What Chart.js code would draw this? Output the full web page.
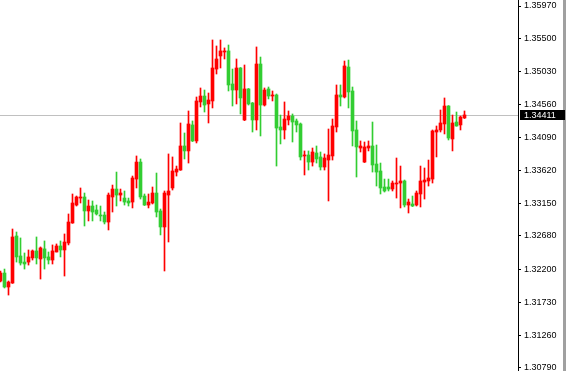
<!DOCTYPE html>
<html>
<head>
<meta charset="utf-8">
<script src="https://cdn.jsdelivr.net/npm/chart.js@4.4.1/dist/chart.umd.min.js"></script>
<style>
  html, body { margin: 0; padding: 0; background: #fff; }
  #wrap { width: 566px; height: 371px; }
</style>
</head>
<body>
<div id="wrap"><canvas id="priceChart" width="566" height="371"></canvas></div>
<script>
// OHLC candles, oldest first
const opens = [
  1.32035, 1.32149, 1.31949, 1.32006, 1.32679, 1.32393, 1.32306, 1.32306, 1.32365, 1.32465,
  1.32350, 1.32494, 1.32379, 1.32335, 1.32450, 1.32536, 1.32479, 1.32579, 1.32865, 1.33122,
  1.33222, 1.33237, 1.33037, 1.33108, 1.33051, 1.32979, 1.32979, 1.32879, 1.33237, 1.33351,
  1.33265, 1.33222, 1.33180, 1.33165, 1.33494, 1.33737, 1.33251, 1.33122, 1.33151, 1.33294,
  1.33037, 1.32808, 1.33265, 1.33366, 1.33594, 1.33623, 1.33967, 1.33896, 1.34268, 1.34039,
  1.34597, 1.34682, 1.34568, 1.34611, 1.35068, 1.35255, 1.35312, 1.35327, 1.34854, 1.34768,
  1.35083, 1.34339, 1.34783, 1.34582, 1.34339, 1.35140, 1.34553, 1.34783, 1.34682, 1.34697,
  1.34239, 1.34196, 1.34339, 1.34396, 1.34325, 1.34282, 1.33824, 1.33838, 1.33737, 1.33867,
  1.33810, 1.33666, 1.33766, 1.33824, 1.34239, 1.34697, 1.34668, 1.35097, 1.34754, 1.34196,
  1.33938, 1.33737, 1.33938, 1.33967, 1.33709, 1.33609, 1.33380, 1.33380, 1.33351, 1.33423,
  1.33437, 1.33466, 1.33122, 1.33137, 1.33122, 1.33280, 1.33451, 1.33466, 1.33494, 1.34167,
  1.34196, 1.34282, 1.34539, 1.34067, 1.34310, 1.34268, 1.34368
];
const highs = [
  1.32178, 1.32206, 1.32035, 1.32779, 1.32736, 1.32651, 1.32436, 1.32479, 1.32479, 1.32665,
  1.32522, 1.32608, 1.32450, 1.32551, 1.32565, 1.32608, 1.32708, 1.32994, 1.33280, 1.33251,
  1.33366, 1.33294, 1.33194, 1.33180, 1.33122, 1.33108, 1.33022, 1.33294, 1.33408, 1.33594,
  1.33351, 1.33323, 1.33222, 1.33537, 1.33824, 1.33781, 1.33280, 1.33280, 1.33380, 1.33580,
  1.33065, 1.33323, 1.33853, 1.33810, 1.33680, 1.34296, 1.34153, 1.34468, 1.34325, 1.34668,
  1.34797, 1.34768, 1.34725, 1.35484, 1.35398, 1.35484, 1.35370, 1.35412, 1.35068, 1.35212,
  1.35090, 1.35126, 1.34790, 1.34590, 1.35384, 1.35240, 1.34797, 1.34811, 1.34754, 1.34711,
  1.34410, 1.34597, 1.34468, 1.34425, 1.34353, 1.34296, 1.33896, 1.33896, 1.33938, 1.33967,
  1.33881, 1.33853, 1.34210, 1.34353, 1.34840, 1.34840, 1.35183, 1.35197, 1.34811, 1.34325,
  1.34039, 1.34024, 1.34039, 1.34310, 1.33981, 1.33723, 1.33494, 1.33494, 1.33466, 1.33795,
  1.33680, 1.33480, 1.33208, 1.33251, 1.33323, 1.33680, 1.33652, 1.33766, 1.34196, 1.34253,
  1.34482, 1.34654, 1.34545, 1.34410, 1.34453, 1.34396, 1.34468
];
const lows = [
  1.32020, 1.31935, 1.31834, 1.32000, 1.32306, 1.32263, 1.32206, 1.32263, 1.32335, 1.32278,
  1.32063, 1.32206, 1.32278, 1.32278, 1.32450, 1.32379, 1.32106, 1.32551, 1.32860, 1.33108,
  1.33151, 1.32822, 1.32894, 1.32894, 1.32979, 1.32894, 1.32851, 1.32765, 1.33022, 1.33108,
  1.33180, 1.33122, 1.33108, 1.33080, 1.33366, 1.33208, 1.33115, 1.33080, 1.33137, 1.32951,
  1.32694, 1.32178, 1.32593, 1.33337, 1.33537, 1.33618, 1.33781, 1.33723, 1.34030, 1.34010,
  1.34525, 1.34453, 1.34296, 1.34511, 1.34997, 1.35083, 1.35212, 1.34754, 1.34539, 1.34568,
  1.34425, 1.34330, 1.34553, 1.34167, 1.34196, 1.34110, 1.34539, 1.34640, 1.34611, 1.33680,
  1.33996, 1.34067, 1.34268, 1.34024, 1.34167, 1.33766, 1.33552, 1.33623, 1.33680, 1.33723,
  1.33623, 1.33623, 1.33180, 1.33766, 1.34167, 1.34539, 1.34654, 1.34511, 1.33967, 1.33523,
  1.33881, 1.33730, 1.33896, 1.33594, 1.33394, 1.33280, 1.33308, 1.33323, 1.33323, 1.33222,
  1.33080, 1.33094, 1.33008, 1.33100, 1.33108, 1.33094, 1.33208, 1.33394, 1.33437, 1.33810,
  1.34167, 1.34139, 1.34053, 1.33896, 1.34250, 1.34196, 1.34360
];
const closes = [
  1.32149, 1.31949, 1.32020, 1.32665, 1.32379, 1.32292, 1.32278, 1.32379, 1.32465, 1.32365,
  1.32508, 1.32365, 1.32335, 1.32465, 1.32536, 1.32479, 1.32593, 1.32879, 1.33151, 1.33237,
  1.33237, 1.33037, 1.33108, 1.33022, 1.32994, 1.32965, 1.32879, 1.33265, 1.33351, 1.33265,
  1.33294, 1.33165, 1.33151, 1.33509, 1.33737, 1.33237, 1.33122, 1.33165, 1.33294, 1.33022,
  1.32808, 1.33294, 1.33323, 1.33609, 1.33637, 1.33967, 1.33896, 1.34282, 1.34039, 1.34611,
  1.34682, 1.34553, 1.34625, 1.35083, 1.35212, 1.35327, 1.35327, 1.34840, 1.34768, 1.35083,
  1.34654, 1.34783, 1.34568, 1.34339, 1.35140, 1.34553, 1.34768, 1.34682, 1.34697, 1.34224,
  1.34196, 1.34353, 1.34396, 1.34310, 1.34268, 1.33810, 1.33838, 1.33737, 1.33881, 1.33781,
  1.33666, 1.33795, 1.33838, 1.34253, 1.34697, 1.34668, 1.35112, 1.34740, 1.34182, 1.33953,
  1.33967, 1.33953, 1.33967, 1.33695, 1.33594, 1.33366, 1.33323, 1.33351, 1.33437, 1.33437,
  1.33466, 1.33122, 1.33165, 1.33108, 1.33294, 1.33466, 1.33480, 1.33509, 1.34182, 1.34196,
  1.34296, 1.34539, 1.34081, 1.34296, 1.34253, 1.34382, 1.34411
];

// price scale labels on the right
const priceTicks = [1.30790, 1.31260, 1.31730, 1.32200, 1.32680, 1.33150,
                    1.33620, 1.34090, 1.34560, 1.35030, 1.35500, 1.35970];
const scaleMin = 1.30747;
const scaleMax = 1.36056;

const upColor = '#ff0000';
const downColor = '#32cd32';

const candleColors = closes.map((c, i) => (c >= opens[i] ? upColor : downColor));
const bodies = opens.map((o, i) => ({ x: i, y: [Math.min(o, closes[i]), Math.max(o, closes[i])] }));
const wicks = lows.map((l, i) => ({ x: i, y: [l, highs[i]] }));
const lastClose = closes[closes.length - 1];

// white background, bid line, right strip and the current price box
const terminalLook = {
  id: 'terminalLook',
  beforeDraw(chart) {
    const ctx = chart.ctx;
    ctx.save();
    ctx.fillStyle = '#ffffff';
    ctx.fillRect(0, 0, chart.width, chart.height);
    ctx.restore();
  },
  beforeDatasetsDraw(chart) {
    const { ctx, chartArea, scales } = chart;
    const y = Math.round(scales.y.getPixelForValue(lastClose)) + 0.5;
    ctx.save();
    ctx.strokeStyle = '#c0c0c0';
    ctx.lineWidth = 1;
    ctx.beginPath();
    ctx.moveTo(chartArea.left, y);
    ctx.lineTo(chartArea.right, y);
    ctx.stroke();
    ctx.restore();
  },
  afterDraw(chart) {
    const { ctx, scales } = chart;
    const y = Math.round(scales.y.getPixelForValue(lastClose));
    ctx.save();
    ctx.fillStyle = '#a0a0a0';
    ctx.fillRect(563, 0, 3, chart.height);
    ctx.fillStyle = '#000000';
    ctx.fillRect(520, y - 5, 45, 10);
    ctx.fillStyle = '#ffffff';
    ctx.font = '9px "Liberation Sans", Arial, sans-serif';
    ctx.textBaseline = 'middle';
    ctx.textAlign = 'left';
    ctx.fillText(lastClose.toFixed(5), 524, y + 0.5);
    ctx.restore();
  }
};

new Chart(document.getElementById('priceChart'), {
  type: 'bar',
  data: {
    datasets: [
      {
        label: 'body',
        data: bodies,
        backgroundColor: candleColors,
        barThickness: 3,
        minBarLength: 1,
        grouped: false,
        order: 0
      },
      {
        label: 'wick',
        data: wicks,
        backgroundColor: candleColors,
        barThickness: 1,
        grouped: false,
        order: 1
      }
    ]
  },
  options: {
    responsive: false,
    animation: false,
    devicePixelRatio: 1,
    layout: { padding: 0 },
    plugins: {
      legend: { display: false },
      tooltip: { enabled: false }
    },
    scales: {
      x: {
        type: 'linear',
        display: false,
        offset: false,
        bounds: 'data',
        min: -0.125,
        max: 129.375
      },
      y: {
        position: 'right',
        min: scaleMin,
        max: scaleMax,
        afterBuildTicks(scale) {
          scale.ticks = priceTicks.map(v => ({ value: v }));
        },
        afterFit(scale) {
          scale.width = 48;
          scale.paddingTop = 0;
          scale.paddingBottom = 0;
        },
        border: { display: true, color: '#000000', width: 1 },
        grid: {
          drawOnChartArea: false,
          drawTicks: true,
          tickLength: 3,
          color: '#000000'
        },
        ticks: {
          padding: 3,
          color: '#000000',
          font: { family: '"Liberation Sans", Arial, sans-serif', size: 9 },
          callback: value => Number(value).toFixed(5)
        }
      }
    }
  },
  plugins: [terminalLook]
});
</script>
</body>
</html>
